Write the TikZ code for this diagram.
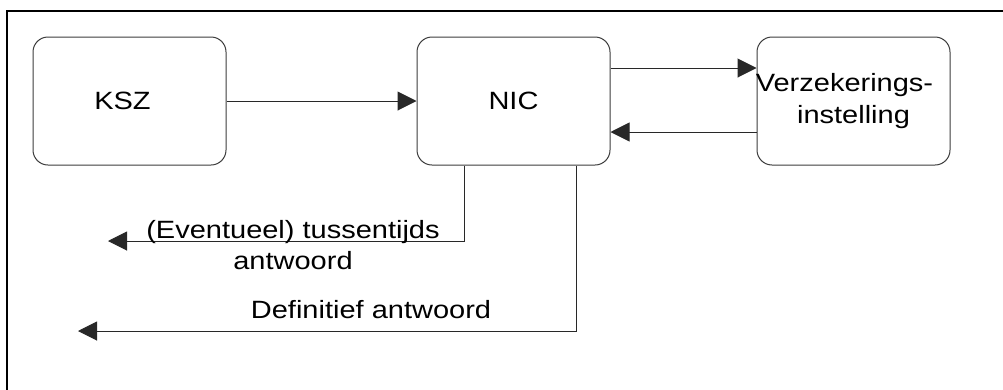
\documentclass[tikz,border=0pt]{standalone}
\usepackage{fontspec}
\newfontfamily\diafont[FakeStretch=1.16]{Liberation Sans}
\usetikzlibrary{arrows.meta}
\definecolor{boxline}{RGB}{60,60,60}
\definecolor{conline}{RGB}{40,40,40}
\tikzset{
  unit/.style={draw=boxline, line width=1pt, rounded corners=15pt,
    minimum width=193pt, minimum height=128pt, inner sep=0pt,
    font=\diafont\fontsize{25}{31.5}\selectfont, align=center},
  con/.style={draw=conline, line width=1pt,
    -{Triangle[length=19pt,width=19pt]}},
  lbl/.style={font=\diafont\fontsize{25}{31.5}\selectfont, align=center, inner sep=0pt}
}
\begin{document}
\begin{tikzpicture}[x=1pt,y=-1pt]
\useasboundingbox (0,0) rectangle (1003,389);
\fill[white] (0,0) rectangle (1003,389);
\draw[line width=2pt] (7,395) -- (7,11) -- (1010,11);
\node[unit] (KSZ) at (129.5,101) {\hspace*{-14pt}KSZ};
\node[unit] (NIC) at (513.5,101) {NIC};
\node[unit] (VER) at (853.5,101) {\raisebox{0pt}[0pt][0pt]{}\hspace*{-18pt}Verzekerings-\\instelling};
\draw[con] (KSZ.east) -- (NIC.west);
\draw[con] ([yshift=33pt]NIC.east) -- ([yshift=33pt]VER.west);
\draw[con] ([yshift=-31pt]VER.west) -- ([yshift=-31pt]NIC.east);
\coordinate (t1) at (108,241);
\coordinate (t2) at (78,331);
\draw[con] ([xshift=-49.5pt]NIC.south) |- (t1);
\draw[con] ([xshift=62.5pt]NIC.south) |- (t2);
\node[lbl] (l1) at (293,245) {(Eventueel) tussentijds\\antwoord};
\node[lbl] (l2) at (371,310) {Definitief antwoord};
\end{tikzpicture}
\end{document}
